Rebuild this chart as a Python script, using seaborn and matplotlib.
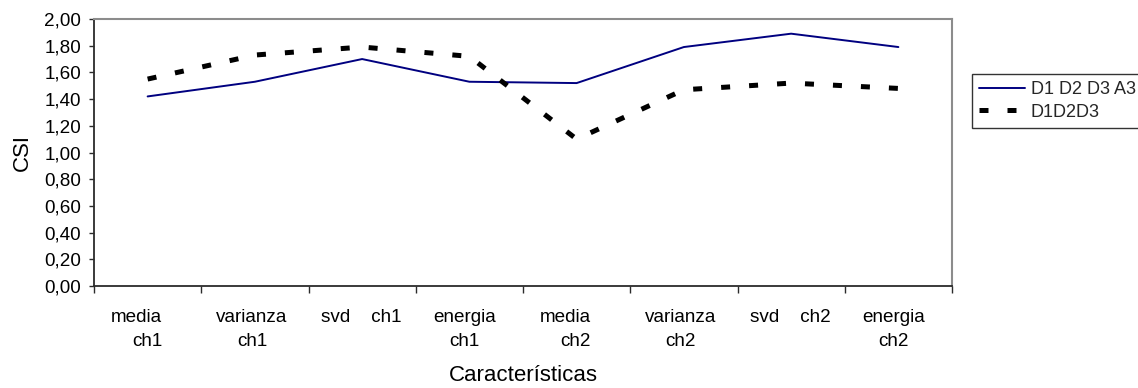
import numpy as np
import pandas as pd
import matplotlib
matplotlib.use("Agg")
import matplotlib.pyplot as plt
import matplotlib.transforms as mtransforms
from matplotlib.ticker import FixedLocator, FixedFormatter, FuncFormatter, NullFormatter
import seaborn as sns

# Feature names along the x axis
categories = ["media ch1", "varianza ch1", "svd ch1", "energia ch1",
              "media ch2", "varianza ch2", "svd ch2", "energia ch2"]
tick_labels = ["media\nch1", "varianza\nch1", "svd    ch1", "energia\nch1",
               "media\nch2", "varianza\nch2", "svd    ch2", "energia\nch2"]
# Per-label line alignment and horizontal nudge (pixels)
label_align = ["right", "center", "center", "center",
               "right", "center", "center", "center"]
label_dx = [-11, -3, -1, -5, -11, -3, -1, -5]

# CSI per feature for each configuration
series_a_name = "D1 D2 D3 A3"
series_a = [1.42, 1.53, 1.70, 1.53, 1.52, 1.79, 1.89, 1.79]
series_b_name = "D1D2D3"
series_b = [1.55, 1.73, 1.79, 1.72, 1.10, 1.47, 1.52, 1.48]

y_ticks = [0.0, 0.2, 0.4, 0.6, 0.8, 1.0, 1.2, 1.4, 1.6, 1.8, 2.0]

sns.set_theme(style="white")
plt.rcParams["font.family"] = ["Liberation Sans", "DejaVu Sans"]

W, H = 1138, 388
fig = plt.figure(figsize=(W / 100, H / 100), dpi=100)
fig.patch.set_facecolor("white")
ax = fig.add_axes([94 / W, 1 - 286 / H, 858 / W, 267 / H])
ax.set_facecolor("white")

sns.lineplot(x=categories, y=series_a, ax=ax, color="#000080", linewidth=1.4,
             label=series_a_name, sort=False)
sns.lineplot(x=categories, y=series_b, ax=ax, color="black", linewidth=3.6,
             linestyle=(0, (1.8, 3.8)), label=series_b_name, sort=False)

n = len(categories)
ax.set_xlim(-0.5, n - 0.5)
ax.set_ylim(y_ticks[0], y_ticks[-1])
ax.set_yticks(y_ticks)
ax.yaxis.set_major_formatter(FuncFormatter(lambda v, p: f"{v:.2f}".replace(".", ",")))

# boundaries get tick marks, centres get the labels
ax.xaxis.set_major_locator(FixedLocator(np.arange(n + 1) - 0.5))
ax.xaxis.set_major_formatter(NullFormatter())
ax.xaxis.set_minor_locator(FixedLocator(np.arange(n)))
ax.xaxis.set_minor_formatter(FixedFormatter(tick_labels))

axis_col = "#2b2b2b"
ax.tick_params(axis="x", which="major", bottom=True, length=5, width=1.0,
               direction="out", color=axis_col)
ax.tick_params(axis="x", which="minor", bottom=True, length=0, pad=16.8,
               labelsize=13.6, labelcolor="black")
ax.tick_params(axis="y", which="major", left=True, length=3.8, width=1.0,
               direction="out", color=axis_col, pad=5.5, labelsize=13.6,
               labelcolor="black")

for tick, ma, dx in zip(ax.xaxis.get_minor_ticks(), label_align, label_dx):
    lab = tick.label1
    lab.set_multialignment(ma)
    lab.set_linespacing(1.55)
    lab.set_transform(lab.get_transform()
                      + mtransforms.ScaledTranslation(dx / 100, 0, fig.dpi_scale_trans))

for side in ["left", "bottom"]:
    ax.spines[side].set_color(axis_col)
    ax.spines[side].set_linewidth(1.3)
for side in ["top", "right"]:
    ax.spines[side].set_color("#8c8c8c")
    ax.spines[side].set_linewidth(1.5)
ax.grid(False)

ax.set_xlabel("Características", fontsize=16, color="black")
ax.xaxis.set_label_coords(0.5, -0.297)
ax.set_ylabel("CSI", fontsize=16, color="black")
ax.yaxis.set_label_coords(-0.0717, 0.5)

if ax.get_legend() is not None:
    ax.get_legend().remove()
handles, labels = ax.get_legend_handles_labels()
leg = ax.legend(handles, labels, loc="upper left",
                bbox_to_anchor=(972 / W, 1 - 74 / H), bbox_transform=fig.transFigure,
                borderaxespad=0, frameon=True, fancybox=False, shadow=False,
                framealpha=1, edgecolor="#333333", fontsize=13,
                handlelength=2.55, handletextpad=0.3, labelspacing=0.3,
                borderpad=0.4)
leg.get_frame().set_linewidth(1.0)

fig.savefig("out.png", dpi=100, facecolor="white")
